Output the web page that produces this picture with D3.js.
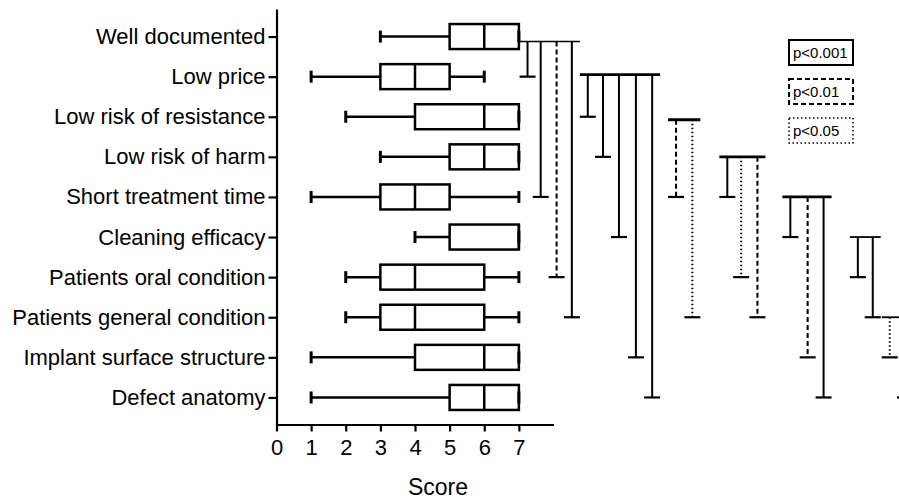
<!doctype html>
<html lang="en">
  <head>
    <meta charset="utf-8">
    <title>Score box plot</title>
    <script src="https://d3js.org/d3.v7.min.js"></script>
    <style>
      body { margin: 0; background: #fff; }
      svg { display: block; font-family: "Liberation Sans", Arial, sans-serif; }
      .axis path, .axis line { stroke: #000; stroke-width: 2.2; }
      .axis text { fill: #000; font-size: 22px; }
    </style>
  </head>
  <body>
    <script>

      // categories, top to bottom
      var categories = ["Well documented", "Low price", "Low risk of resistance", "Low risk of harm",
        "Short treatment time", "Cleaning efficacy", "Patients oral condition",
        "Patients general condition", "Implant surface structure", "Defect anatomy"];

      // five number summaries
      var mins    = [3, 1, 2, 3, 1, 4, 2, 2, 1, 1];
      var q1s     = [5, 3, 4, 5, 3, 5, 3, 3, 4, 5];
      var medians = [6, 4, 6, 6, 4, 7, 4, 4, 6, 6];
      var q3s     = [7, 5, 7, 7, 5, 7, 6, 6, 7, 7];
      var maxs    = [7, 6, 7, 7, 7, 7, 7, 7, 7, 7];

      var xTicks = [0, 1, 2, 3, 4, 5, 6, 7];

      // significance comparisons: from row, to row, level, position along the score scale
      var cmpFrom  = [0, 0, 0, 0,  1, 1, 1, 1, 1,  2, 2,  3, 3, 3,  4, 4, 4,  5, 5,  7, 7];
      var cmpTo    = [1, 4, 6, 7,  2, 3, 5, 8, 9,  4, 7,  4, 6, 7,  5, 8, 9,  6, 7,  8, 9];
      var cmpLevel = [0, 0, 1, 0,  0, 0, 0, 0, 0,  1, 2,  0, 2, 1,  0, 1, 0,  0, 0,  2, 0];
      var cmpPos   = [7.25, 7.63, 8.09, 8.53,  8.99, 9.43, 9.89, 10.38, 10.85,  11.54, 12.01,
                      13.02, 13.42, 13.89,  14.84, 15.34, 15.80,  16.79, 17.22,  17.71, 18.15];

      var levels = ["p<0.001", "p<0.01", "p<0.05"];

      var width = 899, height = 499;
      var dashes = [null, "5,3", "1.5,2.5"];
      var barWidth = {0: 1.5, 1: 2.8, 2: 2.8, 3: 2.8, 4: 2.8, 5: 1.8, 7: 1.8};
      var barNudge = {0: 5, 1: -2, 2: 3};

      var svg = d3.select("body").append("svg")
          .attr("width", width)
          .attr("height", height);

      var x = d3.scaleLinear().domain([0, 8]).range([276.5, 553.5]);
      var y = d3.scalePoint().domain(categories).range([9, 425]).padding(0.687);

      svg.append("g")
          .attr("class", "axis")
          .attr("transform", "translate(0,424.5)")
          .call(d3.axisBottom(x).tickValues(xTicks).tickSize(7).tickSizeOuter(0).tickPadding(8));

      svg.append("g")
          .attr("class", "axis")
          .attr("transform", "translate(276.5,0)")
          .call(d3.axisLeft(y).tickSize(8).tickSizeOuter(0).tickPadding(3));

      svg.append("text")
          .attr("x", 438)
          .attr("y", 495)
          .attr("text-anchor", "middle")
          .style("font-size", "23px")
          .text("Score");

      // boxes
      var rows = categories.map(function(c, i){
        return {c: c, min: mins[i], q1: q1s[i], med: medians[i], q3: q3s[i], max: maxs[i]};
      });

      var box = svg.append("g").selectAll("g").data(rows).enter().append("g")
          .attr("transform", function(d){ return "translate(0," + y(d.c) + ")"; })
          .attr("stroke", "#000")
          .attr("fill", "none");

      box.append("line")
          .attr("x1", function(d){ return x(d.min); })
          .attr("x2", function(d){ return x(d.q1); })
          .attr("stroke-width", 2.5);
      box.append("line")
          .attr("x1", function(d){ return x(d.q3); })
          .attr("x2", function(d){ return x(d.max); })
          .attr("stroke-width", 2.5);
      box.selectAll(".cap").data(function(d){ return [d.min, d.max]; }).enter().append("line")
          .attr("x1", x).attr("x2", x)
          .attr("y1", -6).attr("y2", 6)
          .attr("stroke-width", 3);
      box.append("rect")
          .attr("x", function(d){ return x(d.q1); })
          .attr("width", function(d){ return x(d.q3) - x(d.q1); })
          .attr("y", -12.5)
          .attr("height", 25)
          .attr("stroke-width", 2.5);
      box.append("line")
          .attr("x1", function(d){ return x(d.med); })
          .attr("x2", function(d){ return x(d.med); })
          .attr("y1", -12.5).attr("y2", 12.5)
          .attr("stroke-width", 2.5);

      // significance brackets
      var cmps = cmpFrom.map(function(f, i){
        return {from: f, to: cmpTo[i], level: cmpLevel[i], pos: cmpPos[i]};
      });
      var groups = d3.groups(cmps, function(d){ return d.from; });

      var br = svg.append("g").attr("stroke", "#000").attr("fill", "none");

      groups.forEach(function(g){
        var f = g[0], list = g[1];
        var by = y(categories[f]) + (barNudge[f] || 0);
        var xs = list.map(function(d){ return x(d.pos); });
        br.append("line")
            .attr("x1", d3.min(xs) - 8)
            .attr("x2", d3.max(xs) + 8)
            .attr("y1", by).attr("y2", by)
            .attr("stroke-width", barWidth[f]);
        list.forEach(function(d){
          var ty = y(categories[d.to]);
          br.append("line")
              .attr("x1", x(d.pos)).attr("x2", x(d.pos))
              .attr("y1", by).attr("y2", ty)
              .attr("stroke-width", 2)
              .attr("stroke-dasharray", dashes[d.level]);
          br.append("line")
              .attr("x1", x(d.pos) - 8).attr("x2", x(d.pos) + 8)
              .attr("y1", ty).attr("y2", ty)
              .attr("stroke-width", 2.2);
        });
      });

      // legend
      var legend = svg.append("g").selectAll("g").data(levels).enter().append("g")
          .attr("transform", function(d, i){ return "translate(789," + (40 + i * 39) + ")"; });

      legend.append("rect")
          .attr("width", 64)
          .attr("height", 25)
          .attr("fill", "none")
          .attr("stroke", "#000")
          .attr("stroke-width", function(d, i){ return i == 2 ? 1.5 : 2; })
          .attr("stroke-dasharray", function(d, i){ return dashes[i]; });

      legend.append("text")
          .attr("x", 4)
          .attr("y", 18)
          .style("font-size", "15px")
          .text(String);

    </script>
  </body>
</html>
